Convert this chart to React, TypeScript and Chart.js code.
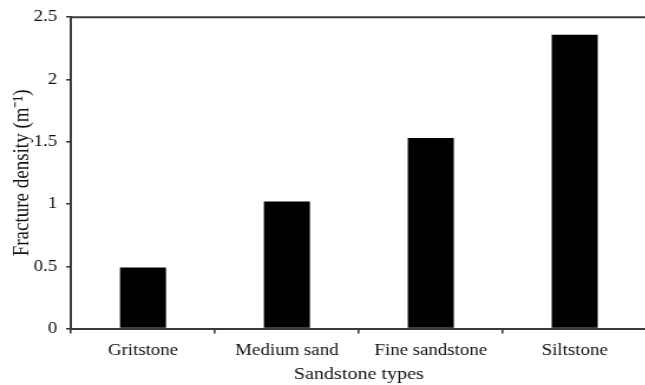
import React, { useEffect, useRef } from "react";
import { Chart, registerables } from "chart.js";

Chart.register(...registerables);

const categories = ["Gritstone", "Medium sand", "Fine sandstone", "Siltstone"];
const fractureDensity = [0.49, 1.02, 1.53, 2.36];
const yTicks = [0, 0.5, 1, 1.5, 2, 2.5];

const STRETCH = 1.18;
const AXIS_COLOR = "#3a3a3a";

const topBorder = {
  id: "topBorder",
  afterDraw(chart: any) {
    const { ctx, chartArea } = chart;
    ctx.save();
    ctx.strokeStyle = AXIS_COLOR;
    ctx.lineWidth = 2;
    ctx.beginPath();
    ctx.moveTo(chartArea.left, chartArea.top);
    ctx.lineTo(chartArea.right + 10, chartArea.top);
    ctx.stroke();
    ctx.restore();
  },
};

export default function App() {
  const ref = useRef<HTMLCanvasElement>(null);
  useEffect(() => {
    document.body.style.margin = "0";
    const family = "'Liberation Serif', 'Times New Roman', serif";
    const chart = new Chart(ref.current!, {
      type: "bar",
      data: {
        labels: categories,
        datasets: [
          {
            data: fractureDensity,
            backgroundColor: "#000",
            borderWidth: 0,
            barPercentage: 0.64,
            categoryPercentage: 0.5,
          },
        ],
      },
      plugins: [topBorder],
      options: {
        animation: false,
        responsive: false,
        maintainAspectRatio: false,
        layout: { padding: { top: 17, right: 4, left: 0, bottom: 0.5 } },
        plugins: { legend: { display: false }, tooltip: { enabled: false } },
        scales: {
          x: {
            grid: {
              offset: true,
              drawOnChartArea: false,
              drawTicks: true,
              tickLength: 5,
              color: AXIS_COLOR,
              lineWidth: 1.6,
            },
            border: { display: true, color: AXIS_COLOR, width: 2 },
            ticks: { color: "#111", font: { family, size: 16 }, padding: 7.3 },
            title: {
              display: true,
              text: "Sandstone types",
              color: "#111",
              font: { family, size: 17 },
              padding: { top: -3.3, bottom: 0 },
            },
          },
          y: {
            min: 0,
            max: 2.5,
            afterBuildTicks: (axis: any) => {
              axis.ticks = yTicks.map((v) => ({ value: v }));
            },
            grid: {
              drawOnChartArea: false,
              drawTicks: true,
              tickLength: 4.2,
              color: AXIS_COLOR,
              lineWidth: 1.6,
            },
            border: { display: true, color: AXIS_COLOR, width: 2 },
            ticks: {
              color: "#111",
              font: { family, size: 16 },
              padding: 7.6,
              callback: (v: any) => String(v),
            },
            title: {
              display: true,
              text: "Fracture density (m\u207B\u00B9)",
              color: "#111",
              font: { family, size: 19 },
              padding: { top: 7.3, bottom: -9.3 },
            },
          },
        },
      },
    });
    return () => chart.destroy();
  }, []);
  return (
    <div
      style={{
        position: "fixed",
        left: 0,
        top: 0,
        width: 645,
        height: 385,
        overflow: "hidden",
        background: "#fff",
      }}
    >
      <div style={{ transform: `scaleX(${STRETCH})`, transformOrigin: "0 0", width: 552 }}>
        <canvas ref={ref} width={552} height={385} style={{ display: "block" }} />
      </div>
    </div>
  );
}
